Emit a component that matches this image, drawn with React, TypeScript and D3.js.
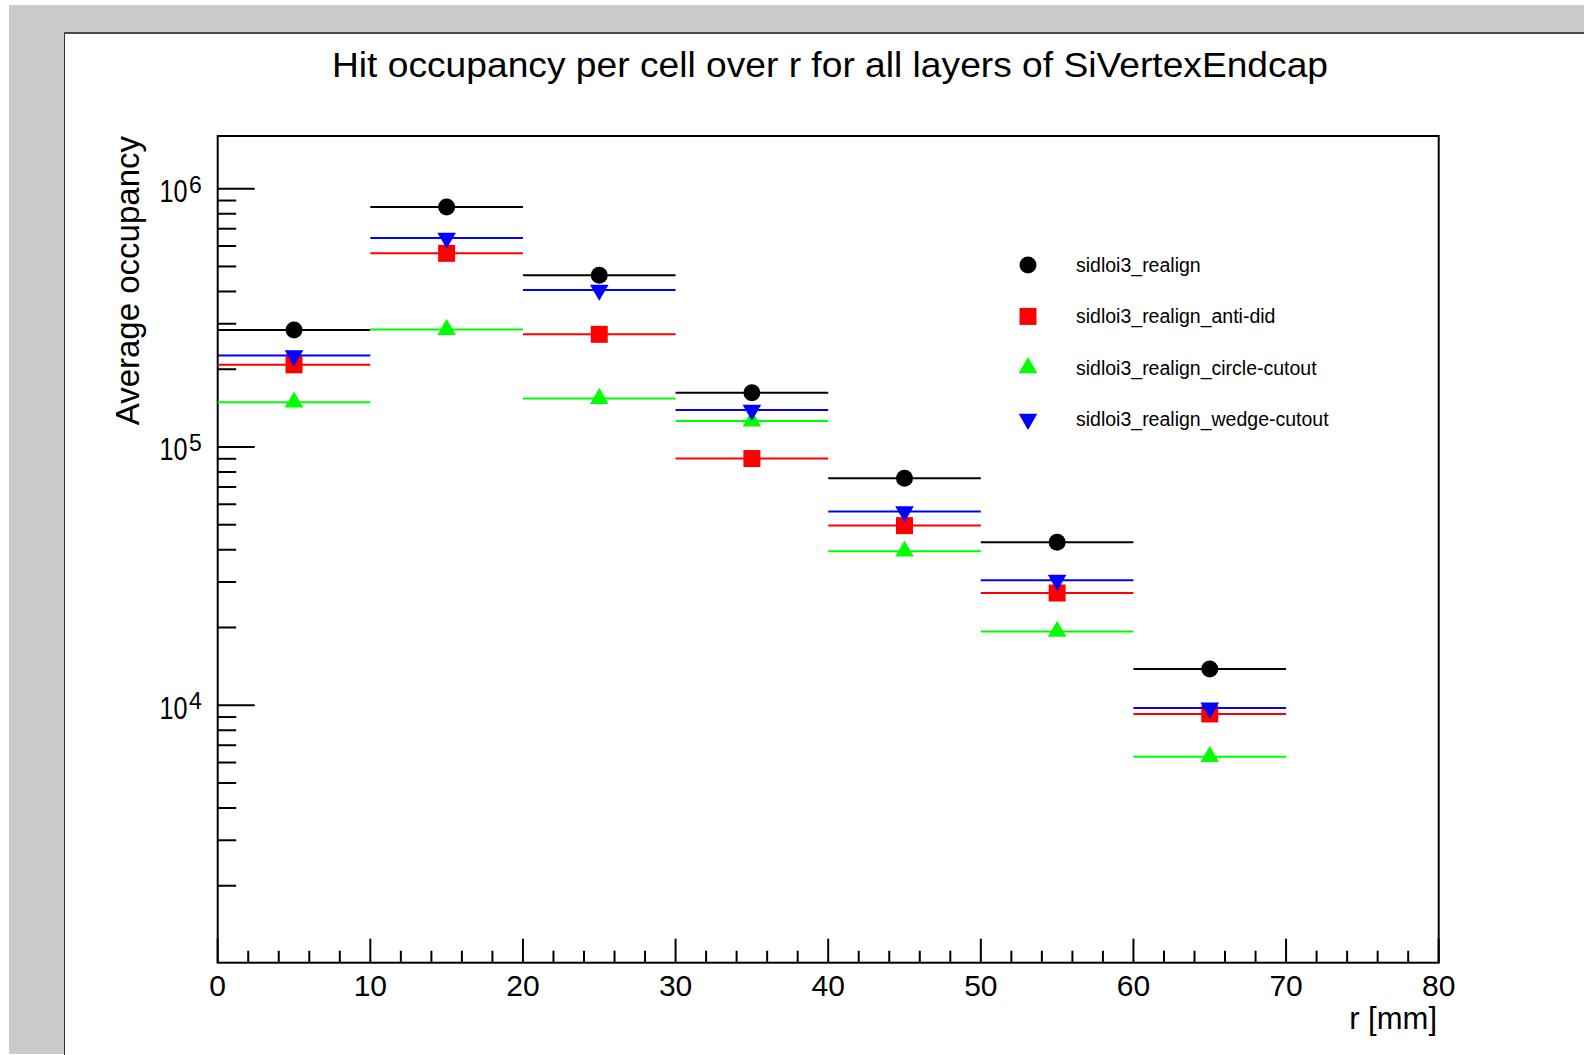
import React from "react";
import * as d3 from "d3";

// ---------- data ----------
const rCenters = [5, 15, 25, 35, 45, 55, 65];
const binHalfWidth = 5;
const realign = [2.84e5, 8.49e5, 4.62e5, 1.62e5, 7.57e4, 4.28e4, 1.38e4];
const antiDid = [2.08e5, 5.62e5, 2.73e5, 9.02e4, 4.96e4, 2.72e4, 9.25e3];
const circleCutout = [1.49e5, 2.85e5, 1.54e5, 1.26e5, 3.95e4, 1.93e4, 6.32e3];
const wedgeCutout = [2.26e5, 6.44e5, 4.05e5, 1.39e5, 5.62e4, 3.05e4, 9.76e3];
const seriesNames = [
  "sidloi3_realign",
  "sidloi3_realign_anti-did",
  "sidloi3_realign_circle-cutout",
  "sidloi3_realign_wedge-cutout",
];
const seriesColors = ["#000000", "#ff0000", "#00ff00", "#0000ff"];
const seriesMarkers = ["circle", "square", "triUp", "triDown"];
const xMajorTicks = [0, 10, 20, 30, 40, 50, 60, 70, 80];
const yMajorExps = [4, 5, 6];
const xDomain = [0, 80];
const yDomain = [1007, 1.6e6];
const titleText = "Hit occupancy per cell over r for all layers of SiVertexEndcap";
const xLabel = "r [mm]";
const yLabel = "Average occupancy";

// ---------- layout ----------
const W = 1584;
const H = 1055;
const left = 217.7;
const right = 1438.7;
const top = 136;
const bottom = 962.7;
const FONT = "'Liberation Sans', Arial, Helvetica, sans-serif";

const x = d3.scaleLinear().domain(xDomain).range([left, right]);
const y = d3.scaleLog().domain(yDomain).range([bottom, top]);

function markerPath(kind: string): string {
  if (kind === "circle") return d3.symbol().type(d3.symbolCircle).size(Math.PI * 8.5 * 8.5)()!;
  if (kind === "square") return d3.symbol().type(d3.symbolSquare).size(17 * 17)()!;
  return d3.symbol().type(d3.symbolTriangle).size(150)()!;
}

function Marker({ kind, cx, cy, color }: { kind: string; cx: number; cy: number; color: string }) {
  const rot = kind === "triDown" ? " rotate(180)" : "";
  return <path d={markerPath(kind)} transform={`translate(${cx},${cy})${rot}`} fill={color} />;
}

export default function App() {
  const series = [realign, antiDid, circleCutout, wedgeCutout];

  const xMinor: number[] = [];
  for (let v = 0; v <= 80; v += 2) if (v % 10 !== 0) xMinor.push(v);
  const yMinor: number[] = [];
  for (let e = 3; e <= 6; e++)
    for (let m = 2; m <= 9; m++) {
      const v = m * Math.pow(10, e);
      if (v >= yDomain[0] && v <= yDomain[1]) yMinor.push(v);
    }

  const legendX = 1028;
  const legendTextX = 1076;
  const legendY0 = 265;
  const legendDy = 51.4;

  return (
    <svg
      width={W}
      height={H}
      style={{ position: "fixed", left: 0, top: 0, display: "block" }}
      xmlns="http://www.w3.org/2000/svg"
    >
      <rect x={0} y={0} width={W} height={H} fill="#ffffff" />
      <rect x={9} y={5} width={W - 9} height={H - 6} fill="#cbcac8" />
      <rect x={64} y={33} width={W - 64} height={H - 33} fill="#ffffff" />
      <line x1={64} y1={33} x2={W} y2={33} stroke="#4a4a4a" strokeWidth={2} />
      <line x1={64.5} y1={33} x2={64.5} y2={H} stroke="#333" strokeWidth={1} />

      {/* title */}
      <text
        x={830}
        y={77}
        fontFamily={FONT}
        fontSize={34.5}
        textAnchor="middle"
        fill="#000"
        textLength={996}
        lengthAdjust="spacingAndGlyphs"
      >
        {titleText}
      </text>

      {/* frame */}
      <rect x={left} y={top} width={right - left} height={bottom - top} fill="none" stroke="#000" strokeWidth={2} />

      {/* x ticks */}
      {xMajorTicks.map((v) => (
        <g key={"xm" + v}>
          <line x1={x(v)} x2={x(v)} y1={bottom} y2={bottom - 24} stroke="#000" strokeWidth={2} />
          <text x={x(v)} y={996} fontFamily={FONT} fontSize={30} textAnchor="middle" fill="#000">
            {v}
          </text>
        </g>
      ))}
      {xMinor.map((v) => (
        <line key={"xn" + v} x1={x(v)} x2={x(v)} y1={bottom} y2={bottom - 12} stroke="#000" strokeWidth={2} />
      ))}
      <text x={1437} y={1029} fontFamily={FONT} fontSize={31} textAnchor="end" fill="#000">
        {xLabel}
      </text>

      {/* y ticks */}
      {yMajorExps.map((e) => {
        const ty = y(Math.pow(10, e));
        return (
          <g key={"ym" + e}>
            <line x1={left} x2={left + 37} y1={ty} y2={ty} stroke="#000" strokeWidth={2} />
            <text x={159.5} y={ty + 13.5} fontFamily={FONT} fontSize={31} fill="#000">
              <tspan textLength={28} lengthAdjust="spacingAndGlyphs">10</tspan>
              <tspan x={189} dy={-9.5} fontSize={23}>
                {e}
              </tspan>
            </text>
          </g>
        );
      })}
      {yMinor.map((v) => (
        <line key={"yn" + v} x1={left} x2={left + 18.5} y1={y(v)} y2={y(v)} stroke="#000" strokeWidth={2} />
      ))}
      <text
        transform={`translate(139,${top}) rotate(-90)`}
        fontFamily={FONT}
        fontSize={33}
        textAnchor="end"
        fill="#000"
      >
        {yLabel}
      </text>

      {/* data */}
      {series.map((vals, si) => (
        <g key={"s" + si}>
          {vals.map((v, i) => (
            <g key={i}>
              <line
                x1={x(rCenters[i] - binHalfWidth)}
                x2={x(rCenters[i] + binHalfWidth)}
                y1={y(v)}
                y2={y(v)}
                stroke={seriesColors[si]}
                strokeWidth={2}
              />
              <Marker kind={seriesMarkers[si]} cx={x(rCenters[i])} cy={y(v)} color={seriesColors[si]} />
            </g>
          ))}
        </g>
      ))}

      {/* legend */}
      {seriesNames.map((name, si) => (
        <g key={"l" + si}>
          <Marker kind={seriesMarkers[si]} cx={legendX} cy={legendY0 + si * legendDy} color={seriesColors[si]} />
          <text
            x={legendTextX}
            y={legendY0 + si * legendDy + 7}
            fontFamily={FONT}
            fontSize={19.5}
            fill="#000"
          >
            {name}
          </text>
        </g>
      ))}
    </svg>
  );
}
